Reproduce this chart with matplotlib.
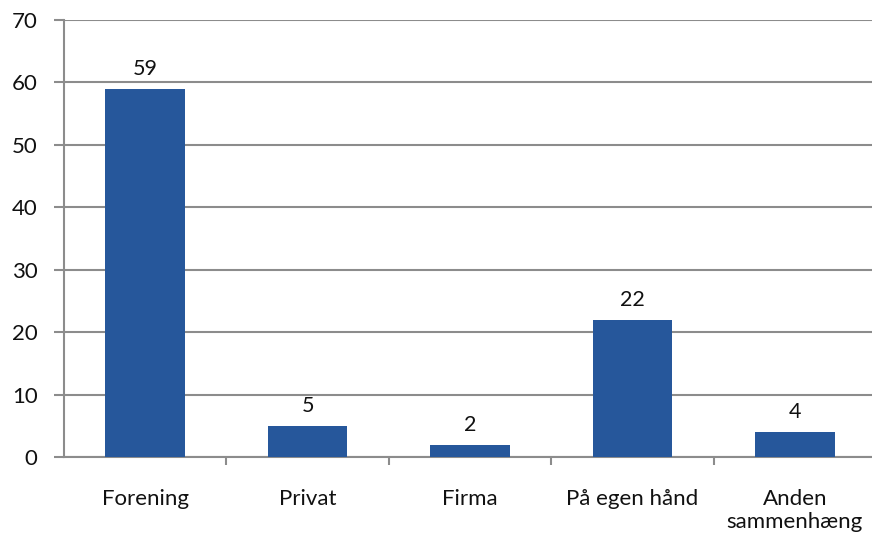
import numpy as np
import matplotlib.pyplot as plt

plt.rcParams['font.family'] = ['Lato', 'DejaVu Sans']

# ----------------------------
# Data
# ----------------------------
categories = ["Forening", "Privat", "Firma", "På egen hånd", "Anden\nsammenhæng"]
values = [59, 5, 2, 22, 4]

bar_color = "#26579b"
grid_color = "#8c8c8c"

# ----------------------------
# Plot
# ----------------------------
fig = plt.figure(figsize=(8.72, 5.35), dpi=100)
ax = fig.add_axes([64 / 872, 1 - 457 / 535, 808 / 872, 437 / 535])

x = np.arange(len(categories))
bars = ax.bar(x, values, width=0.49, color=bar_color, zorder=3)

for rect, v in zip(bars, values):
    ax.annotate(str(v), (rect.get_x() + rect.get_width() / 2, v),
                xytext=(0, 7), textcoords="offset points",
                ha="center", va="bottom", fontsize=15.5, color="#111111")

ax.set_ylim(0, 70)
ax.set_yticks(range(0, 71, 10))
ax.set_xlim(-0.5, -0.5 + 5 * 808 / 812)

# category labels in the middle, tick marks at boundaries
ax.set_xticks(x)
ax.set_xticklabels(categories, fontsize=16, color="#111111", linespacing=1.2)
ax.tick_params(axis="x", which="major", length=0, pad=23)
ax.set_xticks(np.arange(0.5, len(categories) - 0.5, 1), minor=True)
ax.tick_params(axis="x", which="minor", length=6, width=1.5, color=grid_color)

ax.tick_params(axis="y", length=7, width=1.5, color=grid_color,
               labelsize=16, labelcolor="#111111", pad=12)

ax.grid(axis="y", color=grid_color, linewidth=1.5, zorder=0)

for side in ["top", "right"]:
    ax.spines[side].set_visible(False)
for side in ["left", "bottom"]:
    ax.spines[side].set_color(grid_color)
    ax.spines[side].set_linewidth(1.5)

fig.savefig("out.png", dpi=100)
